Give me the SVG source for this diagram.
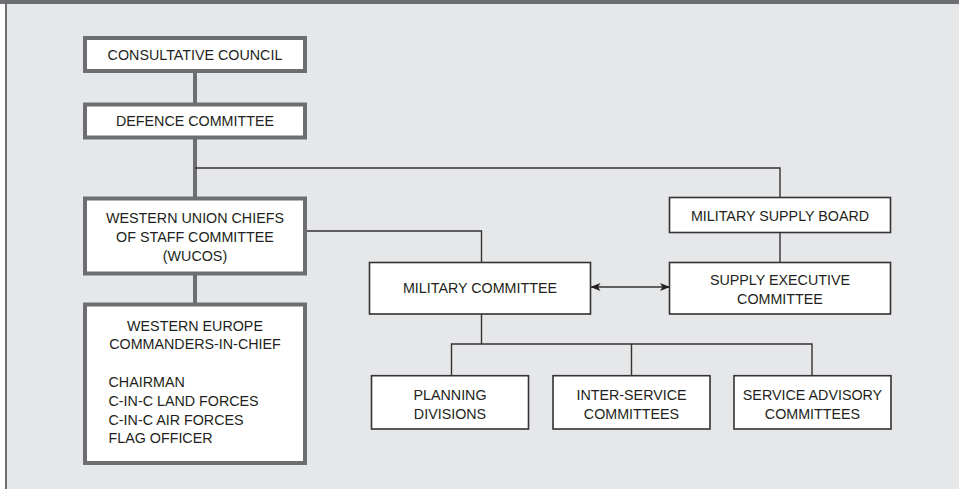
<svg xmlns="http://www.w3.org/2000/svg" width="959" height="489" viewBox="0 0 959 489">
<defs>
<style>
.thick{fill:#fff;stroke:#6d6e71;stroke-width:4}
.thin{fill:#fff;stroke:#333335;stroke-width:1.6}
.cth{stroke:#6d6e71;stroke-width:4;fill:none}
.ctn{stroke:#333335;stroke-width:1.4;fill:none}
text{font-family:"Liberation Sans",Arial,sans-serif;font-size:14.3px;fill:#231f20}
.c{text-anchor:middle}
</style>
<marker id="ah" viewBox="0 0 10 8" refX="9.5" refY="4" markerWidth="10" markerHeight="8" markerUnits="userSpaceOnUse" orient="auto-start-reverse">
<path d="M0,0 L10,4 L0,8 L2.5,4 Z" fill="#231f20"/>
</marker>
</defs>
<rect x="0" y="0" width="959" height="489" fill="#ffffff"/>
<rect x="6" y="4" width="953" height="485" fill="#e6e7e8"/>
<rect x="0" y="0" width="959" height="4" fill="#6d6e71"/>
<rect x="5" y="0" width="2" height="489" fill="#6d6e71"/>
<g id="connectors">
<line class="cth" x1="195" y1="72" x2="195" y2="104"/>
<line class="cth" x1="195" y1="138" x2="195" y2="198"/>
<line class="cth" x1="195" y1="274" x2="195" y2="304"/>
<polyline class="ctn" points="195,168 780,168 780,197.5"/>
<polyline class="ctn" points="307,231 481.5,231 481.5,262.5"/>
<line class="ctn" x1="780" y1="232.5" x2="780" y2="262.5"/>
<line class="ctn" x1="481.5" y1="314" x2="481.5" y2="344"/>
<polyline class="ctn" points="451.5,375.7 451.5,344 812,344 812,375.7"/>
<line class="ctn" x1="631.5" y1="344" x2="631.5" y2="375.7"/>
<line class="ctn" x1="591" y1="287" x2="669.5" y2="287" marker-start="url(#ah)" marker-end="url(#ah)"/>
</g>
<g id="consultative-council">
<rect class="thick" x="85" y="38" width="220" height="33"/>
<text class="c" x="195" y="60">CONSULTATIVE COUNCIL</text>
</g>
<g id="defence-committee">
<rect class="thick" x="85" y="104.5" width="220" height="33"/>
<text class="c" x="195" y="126">DEFENCE COMMITTEE</text>
</g>
<g id="wucos">
<rect class="thick" x="85" y="198.5" width="220" height="75"/>
<text class="c" x="195" y="222.5">WESTERN UNION CHIEFS</text>
<text class="c" x="195" y="241.5">OF STAFF COMMITTEE</text>
<text class="c" x="195" y="260.5">(WUCOS)</text>
</g>
<g id="western-europe-cinc">
<rect class="thick" x="85" y="304.5" width="220" height="158.5"/>
<text class="c" x="195" y="330.7">WESTERN EUROPE</text>
<text class="c" x="195" y="349.3">COMMANDERS-IN-CHIEF</text>
<text x="108.5" y="387.3">CHAIRMAN</text>
<text x="108.5" y="406">C-IN-C LAND FORCES</text>
<text x="108.5" y="424.7">C-IN-C AIR FORCES</text>
<text x="108.5" y="443.3">FLAG OFFICER</text>
</g>
<g id="military-committee">
<rect class="thin" x="369.5" y="262.5" width="221" height="51.5"/>
<text class="c" x="480" y="292.7">MILITARY COMMITTEE</text>
</g>
<g id="military-supply-board">
<rect class="thin" x="669.5" y="197.5" width="221" height="35"/>
<text class="c" x="780" y="220.7">MILITARY SUPPLY BOARD</text>
</g>
<g id="supply-executive-committee">
<rect class="thin" x="669.5" y="262.5" width="221" height="51.5"/>
<text class="c" x="780" y="285">SUPPLY EXECUTIVE</text>
<text class="c" x="780" y="303.7">COMMITTEE</text>
</g>
<g id="planning-divisions">
<rect class="thin" x="371.5" y="375.7" width="157" height="53.3"/>
<text class="c" x="450" y="400">PLANNING</text>
<text class="c" x="450" y="419">DIVISIONS</text>
</g>
<g id="inter-service-committees">
<rect class="thin" x="553" y="375.7" width="157" height="53.3"/>
<text class="c" x="631.5" y="400">INTER-SERVICE</text>
<text class="c" x="631.5" y="419">COMMITTEES</text>
</g>
<g id="service-advisory-committees">
<rect class="thin" x="734" y="375.7" width="157" height="53.3"/>
<text class="c" x="812.5" y="400">SERVICE ADVISORY</text>
<text class="c" x="812.5" y="419">COMMITTEES</text>
</g>
</svg>
